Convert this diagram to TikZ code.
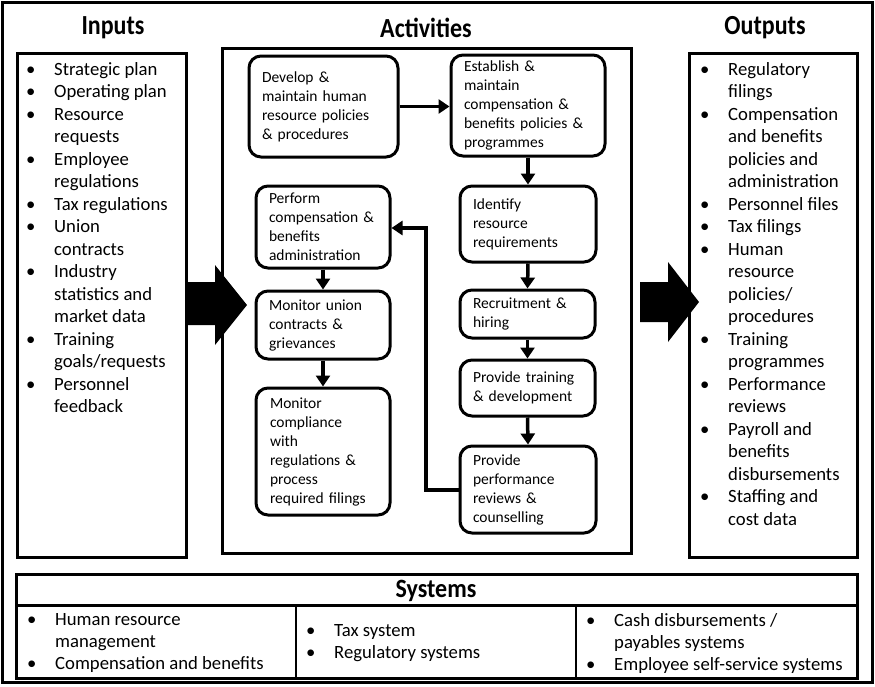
\documentclass[tikz,border=0pt]{standalone}
\usepackage{fontspec}
\setmainfont{Carlito}
\usetikzlibrary{arrows.meta}
\newcommand\bul{\makebox[28pt][l]{•}}
\newcommand\nob{\makebox[28pt][l]{}}
\begin{document}
\begin{tikzpicture}[x=1pt,y=-1pt,
  frame/.style={draw=black,line width=3pt},
  title/.style={font=\bfseries\fontsize{24}{28}\selectfont,inner sep=0pt},
  listtext/.style={font=\fontsize{18.7}{22.5}\selectfont,align=left,anchor=north west,inner sep=0pt},
  sysitem/.style={font=\fontsize{18.7}{22}\selectfont,align=left,anchor=north west,inner sep=0pt},
  act/.style={draw=black,line width=3pt,rounded corners=12pt,align=left,
     font=\fontsize{15.5}{19}\selectfont,inner xsep=13pt,inner ysep=0pt},
  flow/.style={line width=3.5pt,-{Triangle[length=11pt,width=14pt]}},
  bigarrow/.style={fill=black,draw=none}]
\useasboundingbox (0,0) rectangle (875,686);
\draw[frame] (2,2) rectangle (872,682);

% titles
\node[title] (tin) at (113,28) {\scalebox{1}[1.15]{Inputs}};
\node[title] (tact) at (426,28) {\scalebox{1}[1.15]{Activities}};
\node[title] (tout) at (765,28) {\scalebox{1}[1.15]{Outputs}};

% column boxes
\draw[frame] (17,53) rectangle (186,557);
\draw[frame] (222,48) rectangle (631,553);
\draw[frame] (689,53) rectangle (857,557);

% inputs
\node[listtext] (inlist) at (26,62) {\bul Strategic plan\\
\bul Operating plan\\
\bul Resource\\ \nob requests\\
\bul Employee\\ \nob regulations\\
\bul Tax regulations\\
\bul Union\\ \nob contracts\\
\bul Industry\\ \nob statistics and\\ \nob market data\\
\bul Training\\ \nob goals/requests\\
\bul Personnel\\ \nob feedback};

% outputs
\node[listtext] (outlist) at (700,62) {\bul Regulatory\\ \nob filings\\
\bul Compensation\\ \nob and benefits\\ \nob policies and\\ \nob administration\\
\bul Personnel files\\
\bul Tax filings\\
\bul Human\\ \nob resource\\ \nob policies/\\ \nob procedures\\
\bul Training\\ \nob programmes\\
\bul Performance\\ \nob reviews\\
\bul Payroll and\\ \nob benefits\\ \nob disbursements\\
\bul Staffing and\\ \nob cost data};

% big arrows
\fill[bigarrow] (186,282) -- (215,282) -- (215,265) -- (247,305) -- (215,345) -- (215,325) -- (186,325) -- cycle;
\fill[bigarrow] (640,282) -- (668,282) -- (668,262) -- (699,302) -- (668,342) -- (668,322) -- (640,322) -- cycle;

% activity boxes
\node[act,text width=123pt,minimum height=101pt] (dev) at (323.5,106.5) {Develop \&\\ maintain human\\ resource policies\\ \& procedures};
\node[act,text width=128pt,minimum height=101pt] (est) at (528,105.5) {Establish \&\\ maintain\\ compensation \&\\ benefits policies \&\\ programmes};
\node[act,text width=110pt,minimum height=76pt] (iden) at (528,224) {Identify\\ resource\\ requirements};
\node[act,text width=109pt,minimum height=48pt] (rec) at (527.5,314) {Recruitment \&\\ hiring};
\node[act,text width=109pt,minimum height=56pt] (trn) at (527.5,388) {Provide training\\ \& development};
\node[act,text width=110pt,minimum height=87pt] (perf) at (528,489.5) {Provide\\ performance\\ reviews \&\\ counselling};
\node[act,text width=108pt,minimum height=82pt] (comp) at (323,227) {Perform\\ compensation \&\\ benefits\\ administration};
\node[act,text width=108pt,minimum height=68pt] (union) at (323,325) {Monitor union\\ contracts \&\\ grievances};
\node[act,text width=106pt,inner xsep=14pt,minimum height=127pt] (compl) at (323,451.5) {Monitor\\ compliance\\ with\\ regulations \&\\ process\\ required filings};

% flows
\draw[flow] (dev.east) -- (est.west |- dev.east);
\draw[flow] (est.south) -- (iden.north);
\draw[flow] (iden.south) -- (rec.north);
\draw[flow] (rec.south) -- (trn.north);
\draw[flow] (trn.south) -- (perf.north);
\coordinate (fb1) at (426,490);
\coordinate (fb2) at (426,228);
\draw[flow] (perf.west |- fb1) -- (fb1) -- (fb2) -- (comp.east |- fb2);
\draw[flow] (comp.south) -- (union.north);
\draw[flow] (union.south) -- (compl.north);

% systems
\draw[frame] (16,574) rectangle (857,678);
\draw[line width=3pt] (16,605) -- (857,605);
\draw[line width=2.5pt] (296,605) -- (296,678);
\draw[line width=2.5pt] (576,605) -- (576,678);
\node[title] (tsys) at (436,591) {\scalebox{1}[1.1]{Systems}};
\node[sysitem] (sys1) at (27,613) {\bul Human resource\\ \nob management\\ \bul Compensation and benefits};
\node[sysitem] (sys2) at (306,624) {\bul Tax system\\ \bul Regulatory systems};
\node[sysitem] (sys3) at (586,613) {\bul Cash disbursements /\\ \nob payables systems\\ \bul Employee self-service systems};
\end{tikzpicture}
\end{document}
